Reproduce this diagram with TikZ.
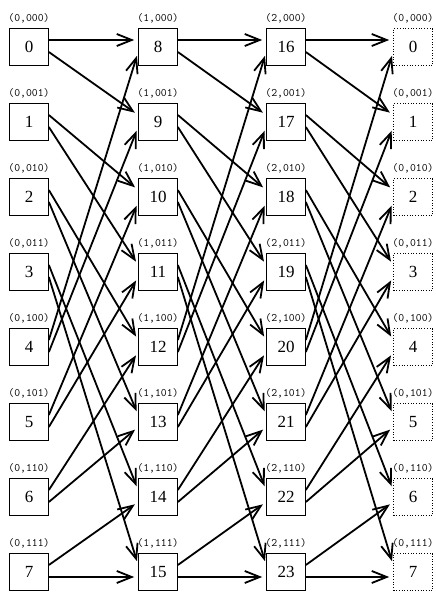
\documentclass[tikz,border=0pt]{standalone}
\usepackage{fontspec}
\setmainfont{Liberation Serif}
\usetikzlibrary{positioning, arrows.meta, calc}
\tikzset{
  cell/.style={draw, line width=0.7pt, minimum width=39pt, minimum height=37pt, inner sep=0pt, font=\fontsize{17}{17}\selectfont},
  outcell/.style={cell, dotted},
  addr/.style={inner sep=0pt, font=\ttfamily\fontsize{11.4}{12}\selectfont},
  wire/.style={line width=1.8pt, -{Straight Barb[length=15pt,width=12pt]}, shorten >=4pt},
}

\begin{document}
\begin{tikzpicture}[x=1pt, y=-1pt]
  \useasboundingbox (0,0) rectangle (436,592);
  % stages 0..2, then the outputs again as 0
  \foreach \s/\x in {0/29, 1/158, 2/286}
    \foreach \r/\bits in {0/000, 1/001, 2/010, 3/011, 4/100, 5/101, 6/110, 7/111} {
      \pgfmathtruncatemacro\num{8*\s+\r}
      \node[cell] (n\s-\r) at (\x,47+75*\r) {\num};
      \node[addr, above=5pt of n\s-\r] (t\s-\r) {(\s,\bits)};
    }
  \foreach \r/\bits in {0/000, 1/001, 2/010, 3/011, 4/100, 5/101, 6/110, 7/111} {
    \node[outcell] (n3-\r) at (413,47+75*\r) {\r};
    \node[addr, above=5pt of n3-\r] (t3-\r) {(0,\bits)};
  }
  % shuffle wires
  \foreach \s [evaluate=\s as \t using int(\s+1)] in {0,1,2}
    \foreach \r in {0,...,7} {
      \pgfmathtruncatemacro\up{mod(2*\r,8)}
      \pgfmathtruncatemacro\dn{\up+1}
      \pgfmathsetmacro\ia{\r<4 ? -7 : 5}
      \draw[wire] ($(n\s-\r.east)+(0,-7)$) -- ($(n\t-\up.west)+(0,\ia)$);
      \draw[wire] ($(n\s-\r.east)+(0,5)$) -- ($(n\t-\dn.west)+(0,\ia)$);
    }
\end{tikzpicture}
\end{document}
